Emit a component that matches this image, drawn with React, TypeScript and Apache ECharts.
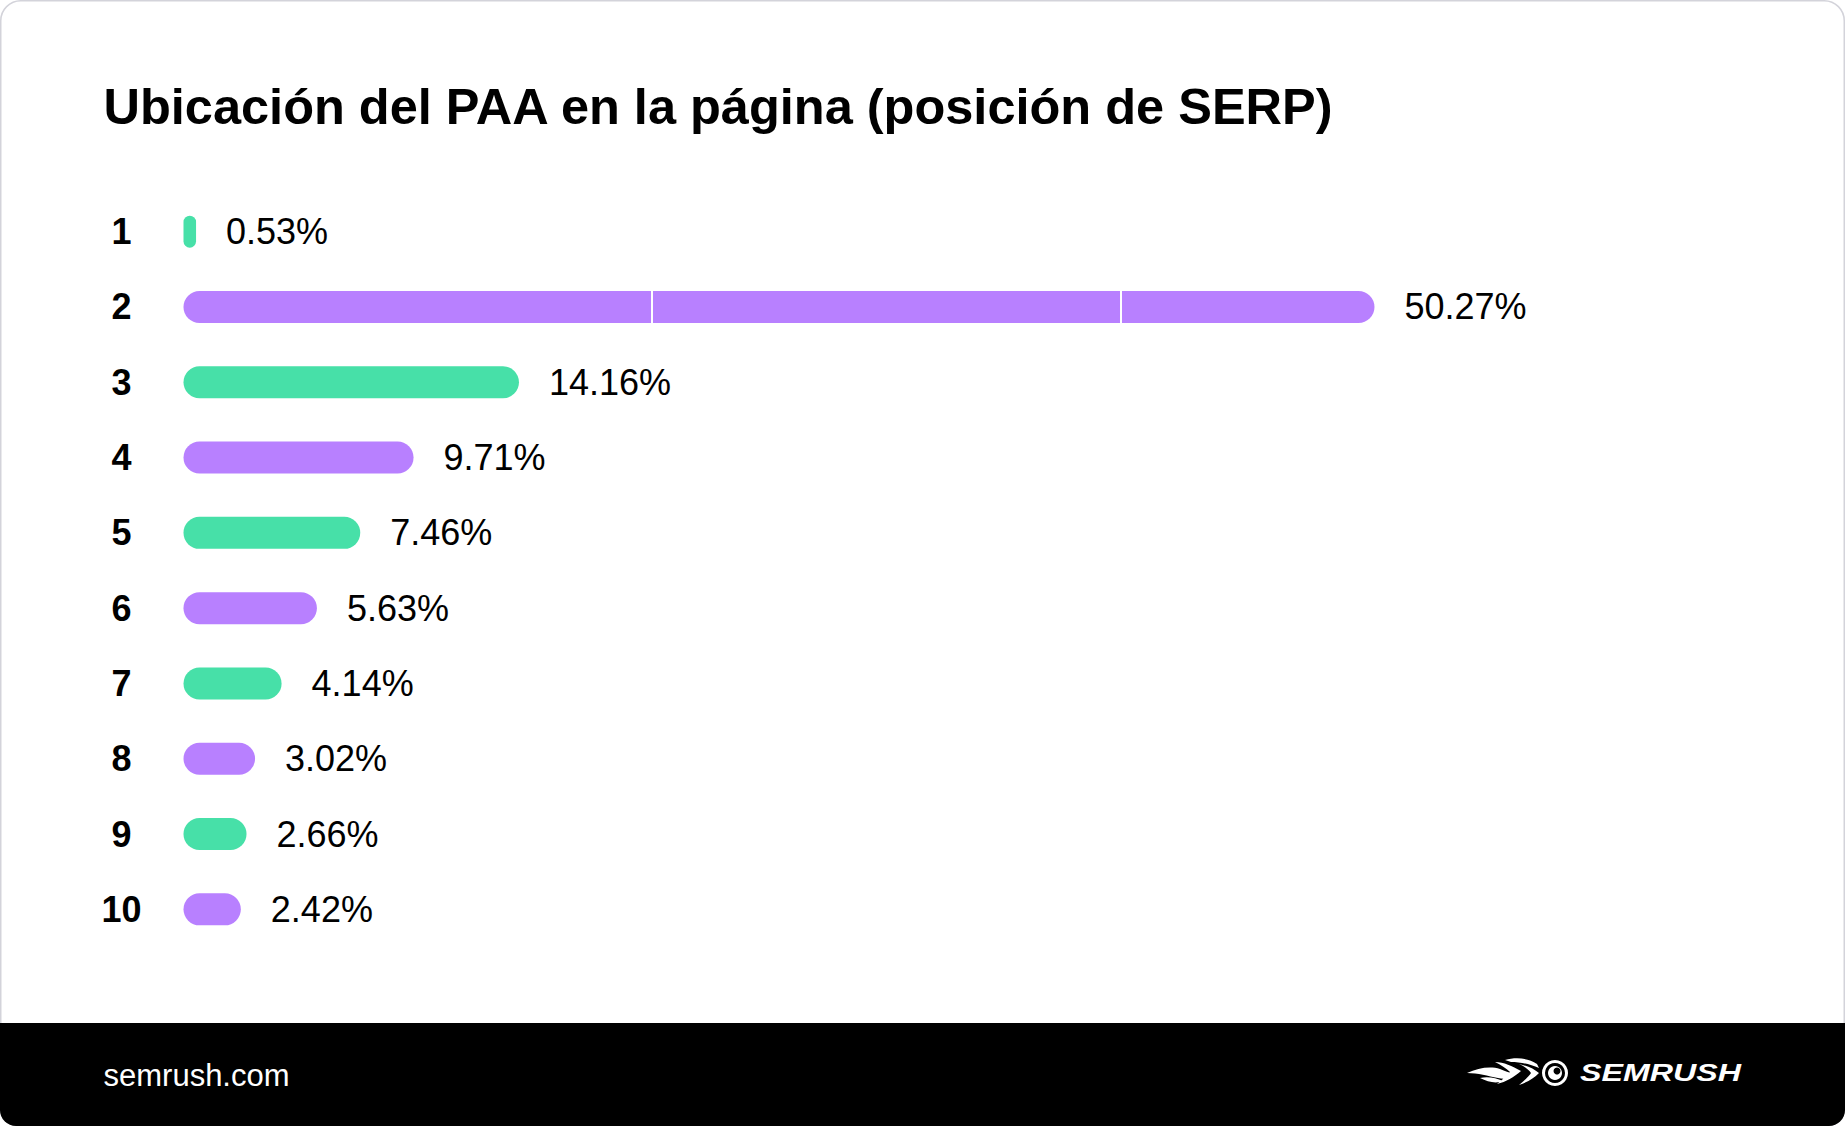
import React, { useEffect, useRef } from "react";
import * as echarts from "echarts";

const TITLE = "Ubicación del PAA en la página (posición de SERP)";
const positions = ["1", "2", "3", "4", "5", "6", "7", "8", "9", "10"];
const shares = [0.53, 50.27, 14.16, 9.71, 7.46, 5.63, 4.14, 3.02, 2.66, 2.42];
const dividerCategory = "2";
const dividerValues = [19.78, 39.57];
const FOOTER_TEXT = "semrush.com";
const LOGO_TEXT = "SEMRUSH";

const GREEN = "#47E0A8";
const PURPLE = "#B880FF";
const BAR_WIDTH = 32;

const FLAME_D =
  "M1467,1073 C1478,1068 1490,1066 1500,1069 C1506,1071 1510,1074 1516,1073 C1512,1078 1506,1080 1498,1078 C1488,1076 1478,1073 1467,1073 Z " +
  "M1480,1078 C1488,1076 1496,1078 1503,1081 C1496,1084 1488,1082 1480,1078 Z " +
  "M1495,1062 C1504,1062 1512,1066 1521,1071 C1514,1077 1506,1082 1497,1084 C1503,1079 1508,1075 1510,1072 C1506,1068 1501,1065 1495,1062 Z " +
  "M1505,1060 C1516,1057 1528,1058 1537,1064 L1539,1068 C1530,1064 1520,1062 1511,1062 Z " +
  "M1519,1064 C1528,1066 1534,1069 1539,1073 C1534,1078 1528,1082 1519,1085 C1525,1080 1529,1076 1531,1073 C1528,1069 1524,1066 1519,1064 Z";

let registered = false;

export default function App() {
  const ref = useRef<HTMLDivElement>(null);

  useEffect(() => {
    if (!ref.current) return;
    if (!registered) {
      echarts.graphic.registerShape("flame", echarts.graphic.extendPath(FLAME_D, {}) as any);
      registered = true;
    }
    const chart = echarts.init(ref.current, undefined, { renderer: "svg" });
    const font = "'Liberation Sans', Arial, sans-serif";
    chart.setOption({
      animation: false,
      backgroundColor: "#ffffff",
      grid: { left: 183.5, right: 240, top: 194, bottom: 179, containLabel: false },
      xAxis: {
        type: "value",
        min: 0,
        max: 60,
        show: false,
      },
      yAxis: {
        type: "category",
        data: positions,
        inverse: true,
        axisLine: { show: false },
        axisTick: { show: false },
        axisLabel: {
          align: "center",
          margin: 62,
          fontFamily: font,
          fontWeight: "bold",
          fontSize: 36,
          color: "#000000",
        },
      },
      series: [
        {
          type: "bar",
          data: shares.map((v, i) => ({
            value: v,
            itemStyle: { color: i % 2 === 0 ? GREEN : PURPLE },
          })),
          barWidth: BAR_WIDTH,
          itemStyle: { borderRadius: 16 },
          label: {
            show: true,
            position: "right",
            distance: 30,
            formatter: (p: any) => `${p.value.toFixed(2)}%`,
            fontFamily: font,
            fontSize: 36,
            color: "#000000",
          },
        },
      ],
      graphic: [
        {
          type: "rect",
          z: -10,
          shape: { x: 0.75, y: 0.75, width: 1843.5, height: 1124.5, r: [20, 20, 16, 16] },
          style: { fill: "#ffffff", stroke: "#d3d3da", lineWidth: 1.5 },
          silent: true,
        },
        {
          type: "rect",
          z: -5,
          shape: { x: 0, y: 1023, width: 1845, height: 103, r: [0, 0, 16, 16] },
          style: { fill: "#000000" },
          silent: true,
        },
        {
          type: "text",
          x: 103.5,
          y: 106.7,
          style: {
            text: TITLE,
            fontFamily: font,
            fontWeight: "bold",
            fontSize: 50.5,
            fill: "#000000",
            align: "left",
            verticalAlign: "middle",
          },
        },
        {
          type: "text",
          x: 103.5,
          y: 1075.3,
          style: {
            text: FOOTER_TEXT,
            fontFamily: font,
            fontSize: 31,
            fill: "#ffffff",
            align: "left",
            verticalAlign: "middle",
          },
        },
        {
          type: "flame",
          x: 0,
          y: 0,
          style: { fill: "#ffffff" },
          silent: true,
        },
        {
          type: "ring",
          shape: { cx: 1555, cy: 1073, r: 13, r0: 10 },
          style: { fill: "#ffffff" },
          silent: true,
        },
        {
          type: "circle",
          shape: { cx: 1555, cy: 1073, r: 7 },
          style: { fill: "#ffffff" },
          silent: true,
        },
        {
          type: "circle",
          shape: { cx: 1557, cy: 1071, r: 3.5 },
          style: { fill: "#000000" },
          silent: true,
        },
        {
          type: "text",
          x: 1580,
          y: 1073.5,
          scaleX: 1.4,
          style: {
            text: LOGO_TEXT,
            fontFamily: font,
            fontWeight: "bold",
            fontStyle: "italic",
            fontSize: 23,
            fill: "#ffffff",
            align: "left",
            verticalAlign: "middle",
          },
        },
      ],
    });

    // White dividers inside bar 2, placed through the chart's own scales
    const yc = chart.convertToPixel({ yAxisIndex: 0 }, dividerCategory) as number;
    const lines = dividerValues.map((v) => {
      const x = chart.convertToPixel({ xAxisIndex: 0 }, v) as number;
      return [
        { x, y: yc - BAR_WIDTH / 2 },
        { x, y: yc + BAR_WIDTH / 2 },
      ];
    });
    chart.setOption({
      series: [
        {
          markLine: {
            silent: true,
            symbol: "none",
            label: { show: false },
            lineStyle: { color: "#ffffff", width: 2, type: "solid" },
            data: lines,
          },
        },
      ],
    });
    return () => chart.dispose();
  }, []);

  return (
    <div
      ref={ref}
      style={{ position: "absolute", left: 0, top: 0, width: 1845, height: 1126 }}
    />
  );
}
